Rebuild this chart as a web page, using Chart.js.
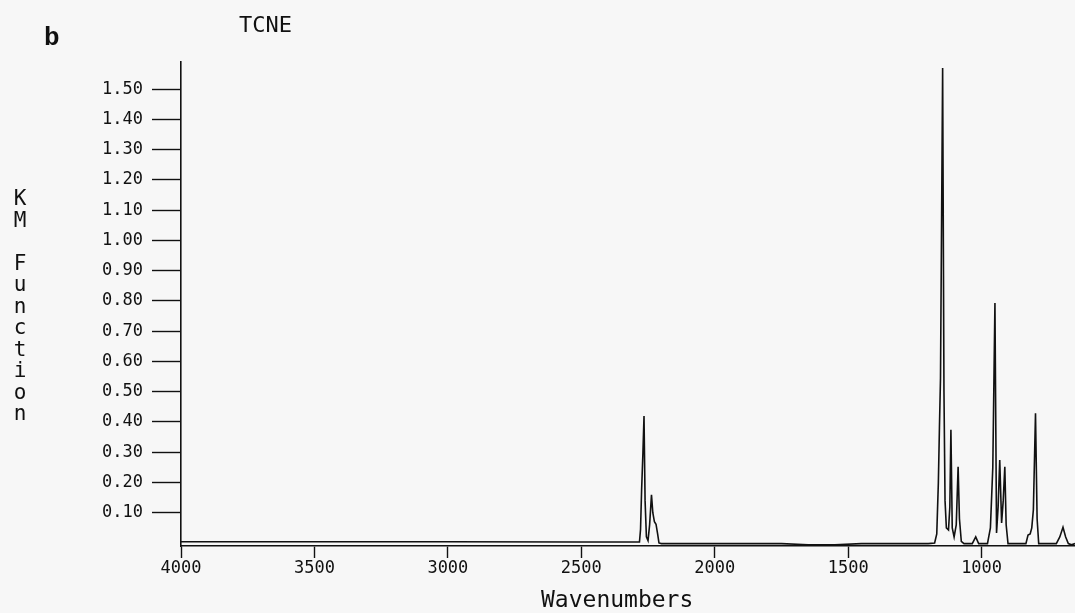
<!DOCTYPE html>
<html>
<head>
<meta charset="utf-8">
<script src="https://cdn.jsdelivr.net/npm/chart.js@4"></script>
<style>
    html, body { margin: 0; padding: 0; background: #f7f7f7; }
    #wrap { position: relative; width: 1075px; height: 613px; }
    canvas { position: absolute; left: 0; top: 0; }
    .lbl { position: absolute; color: #111; font-family: "DejaVu Sans Mono", monospace; white-space: nowrap; }
    #panel { left: 44px; top: 23px; font-family: "Liberation Mono", monospace; font-weight: bold; font-size: 26px; }
    #title { left: 239px; top: 12px; font-size: 22px; }
    #ylab { left: 8px; top: 186px; font-size: 21px; writing-mode: vertical-lr; text-orientation: upright; letter-spacing: -2.5px; }
    #xlab { left: 541px; top: 586px; font-size: 23px; }
</style>
</head>
<body>
<div id="wrap">
    <canvas id="chart" width="1075" height="613"></canvas>
    <div class="lbl" id="panel">b</div>
    <div class="lbl" id="title">TCNE</div>
    <div class="lbl" id="ylab">KM Function</div>
    <div class="lbl" id="xlab">Wavenumbers</div>
</div>
<script>
const wavenumbers = [
    4000, 3000, 2500, 2300, 2282, 2278, 2274, 2269, 2265, 2261, 2256, 2250,
    2244, 2237, 2232, 2226, 2220, 2214, 2209, 2200, 2000, 1750, 1650, 1550,
    1450, 1200, 1176, 1168, 1162, 1158, 1154, 1146, 1141, 1137, 1132, 1124,
    1119, 1115, 1110, 1103, 1095, 1088, 1083, 1076, 1066, 1035, 1022, 1011,
    978, 967, 958, 950, 944, 938, 932, 925, 919, 913, 908, 901,
    834, 826, 818, 812, 806, 798, 792, 786, 720, 707, 695, 685,
    675, 663, 650,
];
const kmValues = [
    0.004, 0.004, 0.003, 0.003, 0.003, 0.045, 0.175, 0.30, 0.42, 0.14, 0.02, 0.008,
    0.06, 0.159, 0.10, 0.07, 0.062, 0.03, 0.0, -0.002, -0.002, -0.002, -0.006, -0.006,
    -0.002, -0.002, 0.0, 0.03, 0.2, 0.38, 0.545, 1.57, 0.5, 0.14, 0.05, 0.043,
    0.12, 0.374, 0.05, 0.02, 0.06, 0.252, 0.08, 0.005, -0.002, -0.002, 0.02, -0.002,
    -0.002, 0.05, 0.25, 0.793, 0.033, 0.12, 0.274, 0.066, 0.14, 0.252, 0.06, -0.002,
    -0.002, 0.026, 0.03, 0.05, 0.11, 0.429, 0.08, -0.002, -0.002, 0.02, 0.052, 0.02,
    -0.002, -0.006, -0.002,
];
const xTickValues = [4000, 3500, 3000, 2500, 2000, 1500, 1000];
const yTickValues = [0.1, 0.2, 0.3, 0.4, 0.5, 0.6, 0.7, 0.8, 0.9, 1.0, 1.1, 1.2, 1.3, 1.4, 1.5];

const INK = "#111";
const TICK_FONT = { family: "DejaVu Sans Mono", size: 17 };

new Chart(document.getElementById("chart"), {
    type: "line",
    data: {
        datasets: [
            {
                label: "TCNE",
                data: wavenumbers.map((x, i) => ({ x, y: kmValues[i] })),
                borderColor: INK,
                borderWidth: 1.6,
                pointRadius: 0,
                tension: 0,
                fill: false,
            },
        ],
    },
    options: {
        responsive: false,
        animation: false,
        layout: { padding: { top: 62, right: 0, left: 0, bottom: 0 } },
        plugins: {
            legend: { display: false },
            tooltip: { enabled: false },
        },
        scales: {
            x: {
                type: "linear",
                reverse: true,
                min: 650,
                max: 4000,
                afterBuildTicks: (s) => { s.ticks = xTickValues.map((v) => ({ value: v })); },
                afterFit: (s) => { s.height = 67; },
                border: { display: true, color: INK, width: 1.6 },
                grid: { drawOnChartArea: false, drawTicks: true, tickLength: 12, tickColor: INK, tickWidth: 1.4 },
                ticks: { color: INK, font: TICK_FONT, padding: 0, maxRotation: 0, autoSkip: false, callback: (v) => String(v) },
            },
            y: {
                min: -0.01,
                max: 1.59,
                afterBuildTicks: (s) => { s.ticks = yTickValues.map((v) => ({ value: v })); },
                afterFit: (s) => { s.width = 181; },
                border: { display: true, color: INK, width: 1.6 },
                grid: { drawOnChartArea: false, drawTicks: true, tickLength: 29, tickColor: INK, tickWidth: 1.4 },
                ticks: { color: INK, font: TICK_FONT, padding: 9, autoSkip: false, callback: (v) => v.toFixed(2) },
            },
        },
    },
});
</script>
</body>
</html>
